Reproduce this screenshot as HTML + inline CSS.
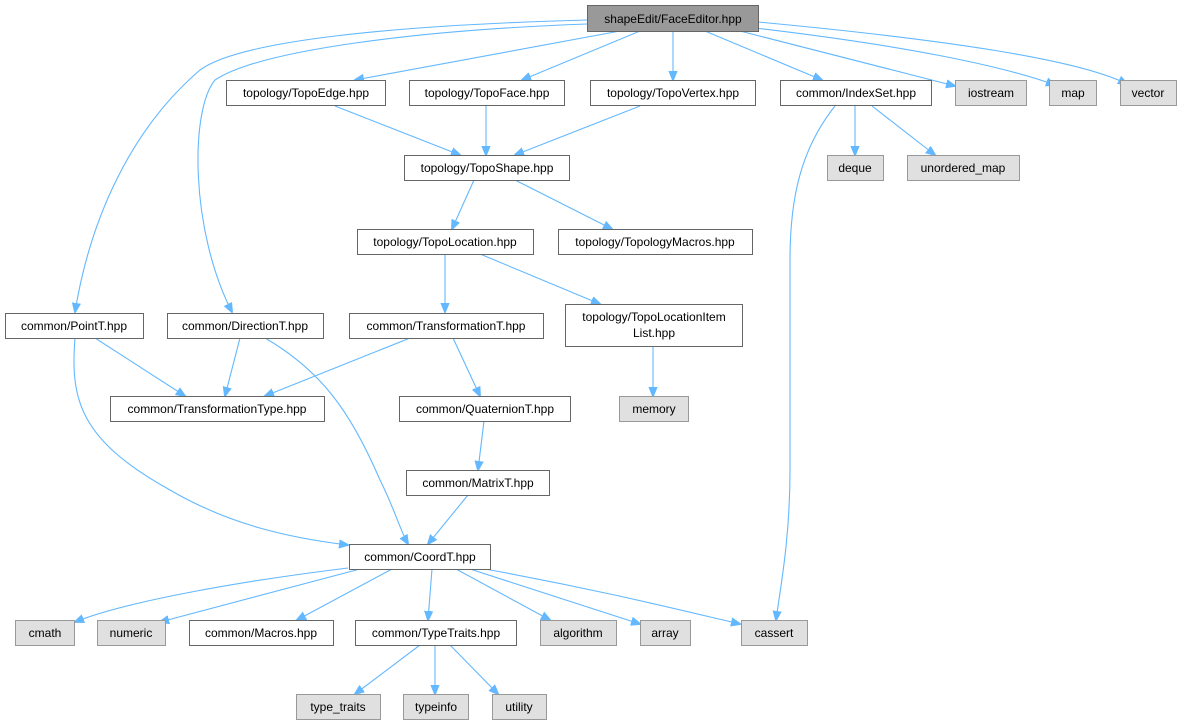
<!DOCTYPE html>
<html><head><meta charset="utf-8"><style>
html,body{margin:0;padding:0;background:#fff}
svg{display:block}
text{font-family:"Liberation Sans",Arial,sans-serif;font-size:12px;fill:#000}
.n rect{fill:#fff;stroke:#666;stroke-width:1}
.g rect{fill:#e0e0e0;stroke:#999;stroke-width:1}
.r rect{fill:#999;stroke:#666}
path{fill:none;stroke:#63b8ff;stroke-width:1.1}
</style></head><body>
<svg width="1182" height="725" viewBox="0 0 1182 725">
<defs><marker id="a" markerWidth="10" markerHeight="10" refX="9" refY="5" orient="auto" markerUnits="userSpaceOnUse"><path d="M0,1 L10,5 L0,9 Z" style="fill:#63b8ff;stroke:#63b8ff"/></marker></defs>
<g marker-end="url(#a)">
<path d="M587,20 C400,25 240,40 200,70 C130,130 90,220 75,312"/>
<path d="M587,24 C420,30 260,50 215,80 C190,110 190,230 232,312"/>
<path d="M620,31 L355,80"/>
<path d="M640,31 L522,80"/>
<path d="M673,31 L673,80"/>
<path d="M705,31 L822,80"/>
<path d="M740,31 L955,86"/>
<path d="M755,28 C900,45 1000,65 1055,85"/>
<path d="M758,22 C950,40 1080,60 1127,84"/>
<path d="M335,106 L460,155"/>
<path d="M486,106 L486,155"/>
<path d="M640,106 L515,155"/>
<path d="M835,106 C800,150 790,200 790,260 L790,470 C790,540 780,590 776,620"/>
<path d="M855,106 L855,155"/>
<path d="M872,106 L935,155"/>
<path d="M474,180 L452,229"/>
<path d="M515,180 L612,229"/>
<path d="M445,254 L445,312"/>
<path d="M480,254 L600,304"/>
<path d="M95,338 L185,396"/>
<path d="M240,338 L225,396"/>
<path d="M410,338 L265,396"/>
<path d="M453,338 L480,396"/>
<path d="M653,347 L653,396"/>
<path d="M484,421 L478,470"/>
<path d="M468,495 L428,544"/>
<path d="M75,338 C70,400 80,440 170,490 C230,525 290,538 348,545"/>
<path d="M265,338 C320,370 350,410 380,480 C395,510 400,530 408,544"/>
<path d="M348,568 C250,580 130,600 75,622"/>
<path d="M360,569 L160,622"/>
<path d="M392,569 L297,620"/>
<path d="M432,569 L428,620"/>
<path d="M456,569 L550,620"/>
<path d="M470,569 L640,624"/>
<path d="M485,569 C600,590 680,610 740,624"/>
<path d="M420,645 L355,694"/>
<path d="M435,645 L435,694"/>
<path d="M450,645 L498,694"/>
</g>
<g class="r"><rect x="587.5" y="5.5" width="171" height="26"/><text x="673" y="23" text-anchor="middle">shapeEdit/FaceEditor.hpp</text></g>
<g class="n" text-anchor="middle">
<rect x="226.5" y="80.5" width="159" height="25"/><text x="306" y="97" text-anchor="middle">topology/TopoEdge.hpp</text>
<rect x="409.5" y="80.5" width="155" height="25"/><text x="487" y="97" text-anchor="middle">topology/TopoFace.hpp</text>
<rect x="590.5" y="80.5" width="165" height="25"/><text x="673" y="97" text-anchor="middle">topology/TopoVertex.hpp</text>
<rect x="780.5" y="80.5" width="151" height="25"/><text x="856" y="97" text-anchor="middle">common/IndexSet.hpp</text>
<rect x="404.5" y="155.5" width="165" height="25"/><text x="487" y="172" text-anchor="middle">topology/TopoShape.hpp</text>
<rect x="357.5" y="229.5" width="176" height="25"/><text x="445" y="246" text-anchor="middle">topology/TopoLocation.hpp</text>
<rect x="558.5" y="229.5" width="194" height="25"/><text x="655" y="246" text-anchor="middle">topology/TopologyMacros.hpp</text>
<rect x="5.5" y="313.5" width="138" height="25"/><text x="74" y="330" text-anchor="middle">common/PointT.hpp</text>
<rect x="167.5" y="313.5" width="156" height="25"/><text x="245" y="330" text-anchor="middle">common/DirectionT.hpp</text>
<rect x="349.5" y="313.5" width="194" height="25"/><text x="446" y="330" text-anchor="middle">common/TransformationT.hpp</text>
<rect x="565.5" y="304.5" width="177" height="42"/><text x="654" y="321" text-anchor="middle">topology/TopoLocationItem</text><text x="654" y="337" text-anchor="middle">List.hpp</text>
<rect x="110.5" y="396.5" width="214" height="25"/><text x="217" y="413" text-anchor="middle">common/TransformationType.hpp</text>
<rect x="399.5" y="396.5" width="171" height="25"/><text x="485" y="413" text-anchor="middle">common/QuaternionT.hpp</text>
<rect x="406.5" y="470.5" width="143" height="25"/><text x="478" y="487" text-anchor="middle">common/MatrixT.hpp</text>
<rect x="349.5" y="544.5" width="141" height="25"/><text x="420" y="561" text-anchor="middle">common/CoordT.hpp</text>
<rect x="189.5" y="620.5" width="144" height="25"/><text x="261" y="637" text-anchor="middle">common/Macros.hpp</text>
<rect x="355.5" y="620.5" width="161" height="25"/><text x="436" y="637" text-anchor="middle">common/TypeTraits.hpp</text>
</g>
<g class="g">
<rect x="955.5" y="80.5" width="71" height="25"/><text x="991" y="97" text-anchor="middle">iostream</text>
<rect x="1049.5" y="80.5" width="47" height="25"/><text x="1073" y="97" text-anchor="middle">map</text>
<rect x="1120.5" y="80.5" width="56" height="25"/><text x="1148" y="97" text-anchor="middle">vector</text>
<rect x="827.5" y="155.5" width="56" height="25"/><text x="855" y="172" text-anchor="middle">deque</text>
<rect x="907.5" y="155.5" width="112" height="25"/><text x="963" y="172" text-anchor="middle">unordered_map</text>
<rect x="619.5" y="396.5" width="69" height="25"/><text x="654" y="413" text-anchor="middle">memory</text>
<rect x="15.5" y="620.5" width="59" height="25"/><text x="45" y="637" text-anchor="middle">cmath</text>
<rect x="97.5" y="620.5" width="68" height="25"/><text x="131" y="637" text-anchor="middle">numeric</text>
<rect x="540.5" y="620.5" width="76" height="25"/><text x="578" y="637" text-anchor="middle">algorithm</text>
<rect x="640.5" y="620.5" width="50" height="25"/><text x="665" y="637" text-anchor="middle">array</text>
<rect x="741.5" y="620.5" width="66" height="25"/><text x="774" y="637" text-anchor="middle">cassert</text>
<rect x="296.5" y="694.5" width="84" height="25"/><text x="338" y="711" text-anchor="middle">type_traits</text>
<rect x="403.5" y="694.5" width="65" height="25"/><text x="436" y="711" text-anchor="middle">typeinfo</text>
<rect x="492.5" y="694.5" width="54" height="25"/><text x="519" y="711" text-anchor="middle">utility</text>
</g>
</svg>
</body></html>
